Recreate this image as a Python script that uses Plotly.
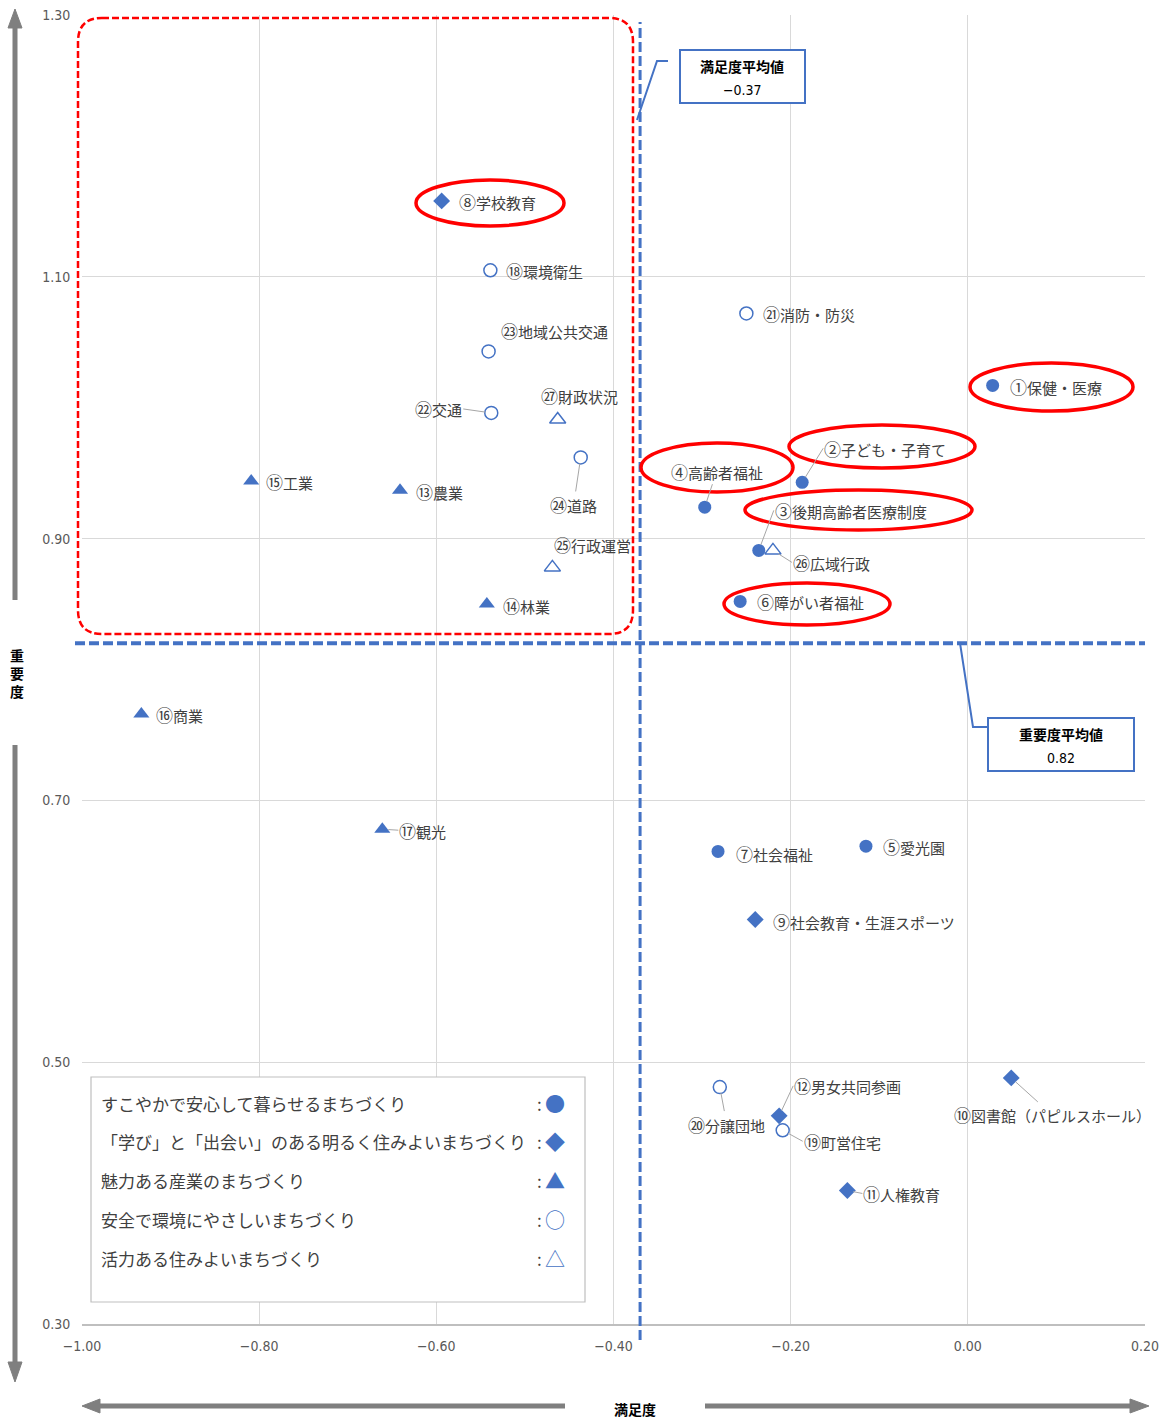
import plotly.graph_objects as go

# ---------------------------------------------------------------- data
x_ticks = [-1.00, -0.80, -0.60, -0.40, -0.20, 0.00, 0.20]
y_ticks = [0.30, 0.50, 0.70, 0.90, 1.10, 1.30]

satisfaction_mean = -0.37
importance_mean = 0.82

group_names = [
    "すこやかで安心して暮らせるまちづくり",
    "「学び」と「出会い」のある明るく住みよいまちづくり",
    "魅力ある産業のまちづくり",
    "安全で環境にやさしいまちづくり",
    "活力ある住みよいまちづくり",
]
group_symbols_text = ["●", "◆", "▲", "○", "△"]

g1_labels = ["①保健・医療", "②子ども・子育て", "③後期高齢者医療制度", "④高齢者福祉",
             "⑤愛光園", "⑥障がい者福祉", "⑦社会福祉"]
g1_satisfaction = [0.028, -0.187, -0.236, -0.297, -0.115, -0.257, -0.282]
g1_importance = [1.017, 0.943, 0.891, 0.924, 0.665, 0.852, 0.661]

g2_labels = ["⑧学校教育", "⑨社会教育・生涯スポーツ", "⑩図書館（パピルスホール）",
             "⑪人権教育", "⑫男女共同参画"]
g2_satisfaction = [-0.594, -0.240, 0.049, -0.136, -0.213]
g2_importance = [1.158, 0.609, 0.488, 0.402, 0.459]

g3_labels = ["⑬農業", "⑭林業", "⑮工業", "⑯商業", "⑰観光"]
g3_satisfaction = [-0.641, -0.543, -0.809, -0.933, -0.661]
g3_importance = [0.937, 0.850, 0.944, 0.766, 0.678]

g4_labels = ["⑱環境衛生", "⑲町営住宅", "⑳分譲団地", "㉑消防・防災", "㉒交通",
             "㉓地域公共交通", "㉔道路"]
g4_satisfaction = [-0.539, -0.209, -0.280, -0.250, -0.538, -0.541, -0.437]
g4_importance = [1.105, 0.448, 0.481, 1.072, 0.996, 1.043, 0.962]

g5_labels = ["㉕行政運営", "㉖広域行政", "㉗財政状況"]
g5_satisfaction = [-0.469, -0.220, -0.463]
g5_importance = [0.878, 0.891, 0.991]

highlighted = ["①保健・医療", "②子ども・子育て", "③後期高齢者医療制度", "④高齢者福祉",
               "⑥障がい者福祉", "⑧学校教育"]

# ---------------------------------------------------------------- layout helpers
W, H = 1164, 1419
ML, MR, MT, MB = 82, 19, 15, 95
PW, PH = W - ML - MR, H - MT - MB


def fx(p):
    """page pixel x -> paper x"""
    return (p - ML) / PW


def fy(p):
    """page pixel y -> paper y"""
    return (H - MB - p) / PH


BLUE = "#4472C4"
RED = "#FF0000"
GREY_ARROW = "#7F7F7F"
TEXT = "#404040"
JP = "Noto Sans CJK JP, Noto Sans, sans-serif"
NARROW = "Liberation Sans Narrow, Arial Narrow, DejaVu Sans Condensed, sans-serif"

# label placement: (dx, dy, anchor, leader line) relative to the marker, pixels
label_place = {
    "①": (16, 1, "left", False), "②": (21, -34, "left", True),
    "③": (15, -40, "left", True), "④": (12, -36, "center", True),
    "⑤": (16, 0, "left", False), "⑥": (16, 0, "left", False),
    "⑦": (17, 2, "left", False), "⑧": (16, 1, "left", False),
    "⑨": (17, 2, "left", False), "⑩": (41, 37, "center", True),
    "⑪": (15, 3, "left", True), "⑫": (14, -30, "left", True),
    "⑬": (15, 1, "left", False), "⑭": (15, 1, "left", False),
    "⑮": (14, 0, "left", False), "⑯": (14, 0, "left", False),
    "⑰": (16, 1, "left", True), "⑱": (15, 0, "left", False),
    "⑲": (20, 11, "left", True), "⑳": (7, 37, "center", True),
    "㉑": (16, 0, "left", False), "㉒": (-28, -4, "right", True),
    "㉓": (11, -21, "left", False), "㉔": (-7, 47, "center", True),
    "㉕": (40, -23, "center", False), "㉖": (19, 12, "left", True),
    "㉗": (22, -24, "center", False),
}

groups = [
    (g1_labels, g1_satisfaction, g1_importance, dict(symbol="circle", size=13, color=BLUE)),
    (g2_labels, g2_satisfaction, g2_importance, dict(symbol="diamond", size=13, color=BLUE)),
    (g3_labels, g3_satisfaction, g3_importance, dict(symbol="triangle-up", size=14, color=BLUE)),
    (g4_labels, g4_satisfaction, g4_importance,
     dict(symbol="circle-open", size=13, color=BLUE, line=dict(width=1.5, color=BLUE))),
    (g5_labels, g5_satisfaction, g5_importance,
     dict(symbol="triangle-up-open", size=14, color=BLUE, line=dict(width=1.5, color=BLUE))),
]

fig = go.Figure()
annotations = []
shapes = []


def styled_label(lab):
    # the circled number is drawn a touch larger so it matches the kanji height
    return f'<span style="font-size:17px">{lab[0]}</span>{lab[1:]}'


for (labels, xs, ys, marker), gname in zip(groups, group_names):
    fig.add_trace(go.Scatter(
        x=xs, y=ys, mode="markers", name=gname, marker=marker,
        text=labels, hoverinfo="text+x+y", showlegend=False, cliponaxis=False,
    ))
    for lab, xv, yv in zip(labels, xs, ys):
        dx, dy, anchor, leader = label_place[lab[0]]
        annotations.append(dict(
            x=xv, y=yv, xref="x", yref="y", text=styled_label(lab),
            showarrow=True, ax=dx, ay=dy, arrowhead=0, arrowwidth=1,
            arrowcolor="#A6A6A6" if leader else "rgba(0,0,0,0)", standoff=6,
            xanchor=anchor, yanchor="middle", borderpad=0,
            font=dict(family=JP, size=15, color=TEXT),
        ))


def page_text(x, y, text, size, color="#000000", family=JP, anchor="center"):
    annotations.append(dict(x=fx(x), y=fy(y), xref="paper", yref="paper", text=text,
                            showarrow=False, xanchor=anchor, yanchor="middle",
                            font=dict(family=family, size=size, color=color)))


# mean lines
shapes.append(dict(type="line", xref="x", yref="paper",
                   x0=satisfaction_mean, x1=satisfaction_mean, y0=fy(1340), y1=fy(22),
                   line=dict(color=BLUE, width=3, dash="10px,4px")))
shapes.append(dict(type="line", xref="paper", yref="y",
                   x0=fx(75), x1=fx(1145), y0=importance_mean, y1=importance_mean,
                   line=dict(color=BLUE, width=4, dash="10px,4px")))

# red rounded frame around the high-importance / low-satisfaction zone
x0, x1, y0, y1, r = 78, 633, 18, 634, 24
pts = lambda a, b: f"{fx(a):.5f},{fy(b):.5f}"
frame = (f"M{pts(x0 + r, y0)} L{pts(x1 - r, y0)} Q{pts(x1, y0)} {pts(x1, y0 + r)} "
         f"L{pts(x1, y1 - r)} Q{pts(x1, y1)} {pts(x1 - r, y1)} "
         f"L{pts(x0 + r, y1)} Q{pts(x0, y1)} {pts(x0, y1 - r)} "
         f"L{pts(x0, y0 + r)} Q{pts(x0, y0)} {pts(x0 + r, y0)} Z")
shapes.append(dict(type="path", xref="paper", yref="paper", path=frame,
                   line=dict(color=RED, width=2.5, dash="7px,3px")))

# red ellipses around the highlighted items
ellipse_boxes = {
    "⑧学校教育": (416, 180, 564, 226),
    "①保健・医療": (970, 363, 1133, 411),
    "②子ども・子育て": (789, 425, 975, 468),
    "④高齢者福祉": (641, 443, 793, 492),
    "③後期高齢者医療制度": (745, 490, 972, 530),
    "⑥障がい者福祉": (724, 583, 890, 625),
}
for name in highlighted:
    a, b, c, d = ellipse_boxes[name]
    shapes.append(dict(type="circle", xref="paper", yref="paper",
                       x0=fx(a), x1=fx(c), y0=fy(d), y1=fy(b),
                       line=dict(color=RED, width=3.5)))


# callout boxes for the means
def callout(box, leader, title, value):
    a, b, c, d = box
    shapes.append(dict(type="path", xref="paper", yref="paper",
                       path="M" + " L".join(pts(p, q) for p, q in leader),
                       line=dict(color=BLUE, width=2)))
    shapes.append(dict(type="rect", xref="paper", yref="paper",
                       x0=fx(a), x1=fx(c), y0=fy(d), y1=fy(b),
                       fillcolor="white", line=dict(color=BLUE, width=2)))
    cx = (a + c) / 2
    page_text(cx, b + 16, f"<b>{title}</b>", 14)
    page_text(cx, b + 40, f"{value:.2f}".replace("-", "−"), 14, family=NARROW)


callout((680, 50, 805, 103), [(637, 120), (657, 61), (668, 61)], "満足度平均値", satisfaction_mean)
callout((988, 718, 1134, 771), [(960, 643), (973, 727), (988, 727)], "重要度平均値", importance_mean)


# axis direction arrows
def arrow_line(a, b, c, d):
    shapes.append(dict(type="line", xref="paper", yref="paper",
                       x0=fx(a), y0=fy(b), x1=fx(c), y1=fy(d),
                       line=dict(color=GREY_ARROW, width=5)))


def arrow_head(points):
    shapes.append(dict(type="path", xref="paper", yref="paper",
                       path="M" + " L".join(pts(p, q) for p, q in points) + " Z",
                       fillcolor=GREY_ARROW, line=dict(color=GREY_ARROW, width=1)))


arrow_line(15, 26, 15, 600)
arrow_head([(15, 9), (8, 28), (22, 28)])
arrow_line(15, 745, 15, 1364)
arrow_head([(15, 1382), (8, 1362), (22, 1362)])
arrow_line(98, 1406, 565, 1406)
arrow_head([(82, 1406), (100, 1399), (100, 1413)])
arrow_line(705, 1406, 1132, 1406)
arrow_head([(1149, 1406), (1130, 1399), (1130, 1413)])

page_text(17, 673, "<b>重</b><br><b>要</b><br><b>度</b>", 14)
page_text(635, 1409, "<b>満足度</b>", 14)

# category key box
shapes.append(dict(type="rect", xref="paper", yref="paper",
                   x0=fx(91), x1=fx(585), y0=fy(1302), y1=fy(1077),
                   fillcolor="white", line=dict(color="#BFBFBF", width=1.2)))
for i, (gname, sym) in enumerate(zip(group_names, group_symbols_text)):
    yy = 1103 + i * 38.8
    page_text(99, yy, gname, 17, color=TEXT, anchor="left")
    page_text(539, yy, ":", 17, color=TEXT)
    page_text(555, yy, sym, 20, color=BLUE)

axis_common = dict(
    showgrid=True, gridcolor="#D9D9D9", gridwidth=1, zeroline=False,
    automargin=False, tickformat=".2f",
    ticks="outside", ticklen=8, tickcolor="rgba(0,0,0,0)",
    tickfont=dict(family=NARROW, size=14, color="#595959"),
)

fig.update_layout(
    width=W, height=H, autosize=False,
    margin=dict(l=ML, r=MR, t=MT, b=MB, autoexpand=False),
    paper_bgcolor="white", plot_bgcolor="white",
    shapes=shapes, annotations=annotations,
    xaxis=dict(range=[x_ticks[0], x_ticks[-1]], tickvals=x_ticks,
               showline=True, linecolor="#BFBFBF", linewidth=1.5, **axis_common),
    yaxis=dict(range=[y_ticks[0], y_ticks[-1]], tickvals=y_ticks,
               showline=False, **axis_common),
)

fig.write_html("out.html")
